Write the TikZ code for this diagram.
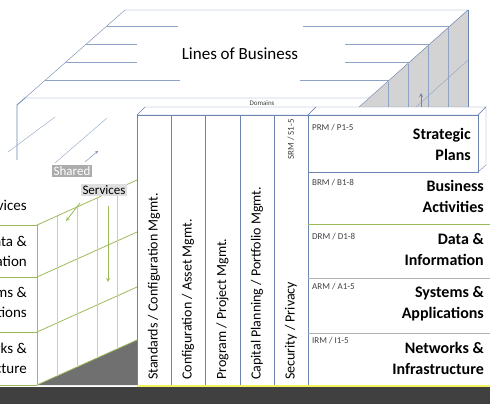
\documentclass[tikz,border=0pt]{standalone}
\usepackage{fontspec}
\setmainfont{Carlito}
\definecolor{lobline}{HTML}{8EA3C7}
\definecolor{lobedge}{HTML}{6C84B0}
\definecolor{sidegray}{HTML}{D3D3D3}
\definecolor{svcgreen}{HTML}{9BBB59}
\definecolor{floordark}{HTML}{404040}
\definecolor{edgeyellow}{HTML}{F2F25A}
\definecolor{tagtext}{HTML}{404040}

\begin{document}
\begin{tikzpicture}[x=1pt,y=-1pt,
	coltext/.style={rotate=90,anchor=west,font=\fontsize{14}{16}\selectfont,inner sep=1pt},
	rowtag/.style={anchor=west,font=\fontsize{9}{11}\selectfont,text=tagtext,inner sep=1pt},
	rowhead/.style={anchor=east,align=right,font=\fontsize{16}{21}\selectfont\bfseries,inner sep=0pt},
	sidehead/.style={anchor=east,align=right,font=\fontsize{15}{20}\selectfont,inner sep=0pt},
	svclabel/.style={font=\fontsize{13}{15}\selectfont,inner sep=1.5pt}]
			%%%%% START %%%%%
			\useasboundingbox (0,0) rectangle (490,404);
			\clip (0,0) rectangle (490,404);
			
			% lines of business (top face)
			\draw[lobedge,fill=white] (125,10) -- (468,10) -- (370,98) -- (25,98) -- cycle;
			\foreach \yy/\xa/\xb in {26/178/303, 44/137/345, 62/137/345, 80/180/300} {
				\draw[lobline,thick] ({125-100*(\yy-10)/88},\yy) -- (\xa,\yy);
				\draw[lobline,thick] (\xb,\yy) -- ({468-98*(\yy-10)/88},\yy);
			}
			\node[font=\fontsize{17}{20}\selectfont] (lob) at (240,54) {Lines of Business};
			
			% side face
			\fill[sidegray] (468,10) -- (468,107) -- (359,107) -- cycle;
			\draw[lobedge] (468,10) -- (359,107);
			\draw[lobedge] (468,10) -- (468,107);
			\foreach \xx in {388,408,428,448}
				\draw[lobline] (\xx,{10+88*(468-\xx)/98}) -- (\xx,107);
			\draw[lobline] (468,60) -- (416,107);
			\draw[lobedge,thick,->,>=stealth] (421,107) -- (421,93);
			
			% upper left slab
			\draw[lobedge,thick] (25,98) -- (17,105) -- (17,160);
			\draw[lobline] (8,152) -- (55,117);
			\draw[lobline] (55,163) -- (107,118);
			\draw[lobedge,->,>=stealth] (85,162) -- (98,151);
			
			% columns
			\draw[lobedge,fill=white] (137,115) -- (145,107) -- (316,107) -- (308,115) -- cycle;
			\node[font=\fontsize{7}{8}\selectfont,text=tagtext,inner sep=0pt] (dom) at (262,103) {Domains};
			\draw[lobedge] (137,115) rectangle (308,385);
			\foreach \xx in {171,205,240,274}
				\draw[lobedge] (\xx,115) -- (\xx,385);
			\node[coltext] (stdcfg) at (154,381) {Standards / Configuration Mgmt.};
			\node[coltext] (cfgasset) at (188,381) {Configuration / Asset Mgmt.};
			\node[coltext] (progproj) at (222.5,381) {Program / Project Mgmt.};
			\node[coltext] (capplan) at (257,381) {Capital Planning / Portfolio Mgmt.};
			\node[coltext] (secpriv) at (291,381) {Security / Privacy};
			\node[rowtag,rotate=90,anchor=east] (srm) at (291,118) {SRM / S1-5};
			
			% strategic plans
			\draw[lobedge,fill=white] (308,115) -- (316,107) -- (486,107) -- (478,115) -- cycle;
			\draw[lobedge,fill=white] (478,115) -- (486,107) -- (486,165) -- (478,172) -- cycle;
			\draw[lobedge,thick,fill=white] (308,115) rectangle (478,172);
			\node[rowtag] (prm) at (311,128) {PRM / P1-5};
			\node[rowhead] (strat) at (471,144) {Strategic\\Plans};
			
			% rows
			\draw[lobedge] (308,172) -- (308,385);
			\draw[svcgreen,thick] (308,224) -- (490,224);
			\draw[gray!60] (308,278) -- (490,278);
			\draw[gray!60] (308,333) -- (490,333);
			\node[rowtag] (brm) at (311,183) {BRM / B1-8};
			\node[rowhead] (busact) at (484,196) {Business\\Activities};
			\node[rowtag] (drm) at (311,237) {DRM / D1-8};
			\node[rowhead] (datainf) at (484,250) {Data \&\\Information};
			\node[rowtag] (arm) at (311,287) {ARM / A1-5};
			\node[rowhead] (sysapp) at (484,304) {Systems \&\\Applications};
			\node[rowtag] (irm) at (311,341) {IRM / I1-5};
			\node[rowhead] (netinf) at (484,358) {Networks \&\\Infrastructure};
			
			% shared services slab
			\fill[floordark!75] (37,385) -- (137,340) -- (137,385) -- cycle;
			\foreach \yy in {225,277,332,385} {
				\draw[svcgreen] (0,\yy) -- (37,\yy);
				\draw[svcgreen,thick] (37,\yy) -- (137,\yy-45);
			}
			\foreach \xx in {57,77,97,117}
				\draw[svcgreen!60] (\xx,{225-45*(\xx-37)/100}) -- (\xx,{385-45*(\xx-37)/100});
			\draw[svcgreen,thick] (37,225) -- (37,385);
			\draw[svcgreen,thick,->,>=stealth] (80,203) -- (66,221);
			\draw[svcgreen,thick,->,>=stealth] (108,206) -- (108,282);
			\node[svclabel,fill=gray!65,text=white] (shared) at (72,171) {Shared};
			\node[svclabel,fill=gray!25] (services) at (104,190) {Services};
			
			\node[sidehead] (lsvc) at (27,205) {Services};
			\node[sidehead] (ldata) at (27,251) {Data \&\\Information};
			\node[sidehead] (lsys) at (27,304) {Systems \&\\Applications};
			\node[sidehead] (lnet) at (27,358) {Networks \&\\Infrastructure};
			
			% floor
			\fill[floordark] (0,387) rectangle (490,404);
			\draw[edgeyellow,line width=1.5pt] (137,386) -- (490,386);
			%%%%% END %%%%%
\end{tikzpicture}
\end{document}
